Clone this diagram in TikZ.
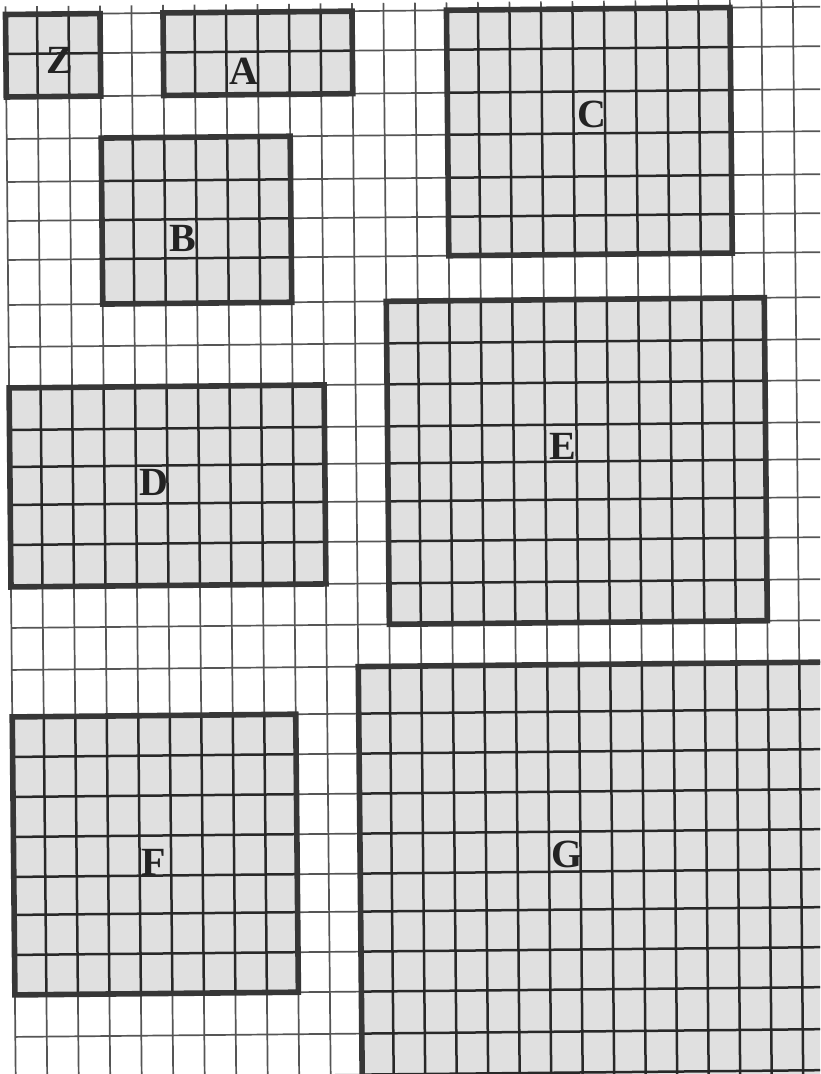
\documentclass[tikz,border=0pt]{standalone}
\usepackage{fontspec}
\setmainfont{Liberation Serif}
\definecolor{boxfill}{RGB}{224,224,224}
\definecolor{gridc}{RGB}{85,85,85}
\definecolor{ingrid}{RGB}{40,40,40}
\definecolor{bordc}{RGB}{55,55,55}
\definecolor{labelc}{RGB}{35,35,35}
\def\RY{{0,39.5,82.5,124.5,167.5,206.5,245.5,290.5,332.5,373.5,415.5,452.5,490.5,530.5,572.5,613.5,655.5,702.5,742.5,782.5,822.5,862.5,900.5,940.5,980.5,1022.5,1063.5,1104.5}}
\def\CW{31.5}
\tikzset{
  gridline/.style={draw=gridc, line width=0.85pt},
  inline/.style={draw=ingrid, line width=1.25pt},
  boxborder/.style={draw=bordc, line width=2.8pt, line join=miter},
  boxlabel/.style={text=labelc, inner sep=0pt, font=\fontsize{20}{20}\selectfont\bfseries}
}
\newcommand\shadedbox[4]{%
  \pgfmathsetmacro\xa{#1*\CW}\pgfmathsetmacro\xb{#3*\CW}%
  \pgfmathsetmacro\ya{\RY[#2]}\pgfmathsetmacro\yb{\RY[#4]}%
  \fill[boxfill] (\xa,\ya) rectangle (\xb,\yb);
  \foreach \cc in {#1,...,#3} {\draw[inline] (\cc*\CW,\ya) -- (\cc*\CW,\yb);}
  \foreach \rr in {#2,...,#4} {\pgfmathsetmacro\yy{\RY[\rr]}\draw[inline] (\xa,\yy) -- (\xb,\yy);}
  \draw[boxborder] (\xa,\ya) rectangle (\xb,\yb);
}
\begin{document}
\begin{tikzpicture}[x=0.5pt,y=-0.5pt]
\useasboundingbox (0,0) rectangle (820,1074);
\fill[white] (0,0) rectangle (820,1074);
\clip (0,0) rectangle (820,1074);
\begin{scope}[shift={(5.5,14.5)},rotate=0.55]
  \foreach \cc in {0,...,27} {\draw[gridline] (\cc*\CW,-8) -- (\cc*\CW,1110);}
  \foreach \rr in {0,...,27} {\pgfmathsetmacro\yy{\RY[\rr]}\draw[gridline] (0,\yy) -- (870,\yy);}
  \shadedbox{0}{0}{3}{2}
  \shadedbox{5}{0}{11}{2}
  \shadedbox{3}{3}{9}{7}
  \shadedbox{14}{0}{23}{6}
  \shadedbox{0}{9}{10}{14}
  \shadedbox{12}{7}{24}{15}
  \shadedbox{0}{17}{9}{24}
  \shadedbox{11}{16}{27}{27}
\end{scope}
\node[boxlabel] (lblZ) at (60,60) {Z};
\node[boxlabel] (lblA) at (244,71) {A};
\node[boxlabel] (lblB) at (183,238) {B};
\node[boxlabel] (lblC) at (592,114) {C};
\node[boxlabel] (lblD) at (154,482) {D};
\node[boxlabel] (lblE) at (563,446) {E};
\node[boxlabel] (lblF) at (154,862) {F};
\node[boxlabel] (lblG) at (567,854) {G};
\end{tikzpicture}
\end{document}
